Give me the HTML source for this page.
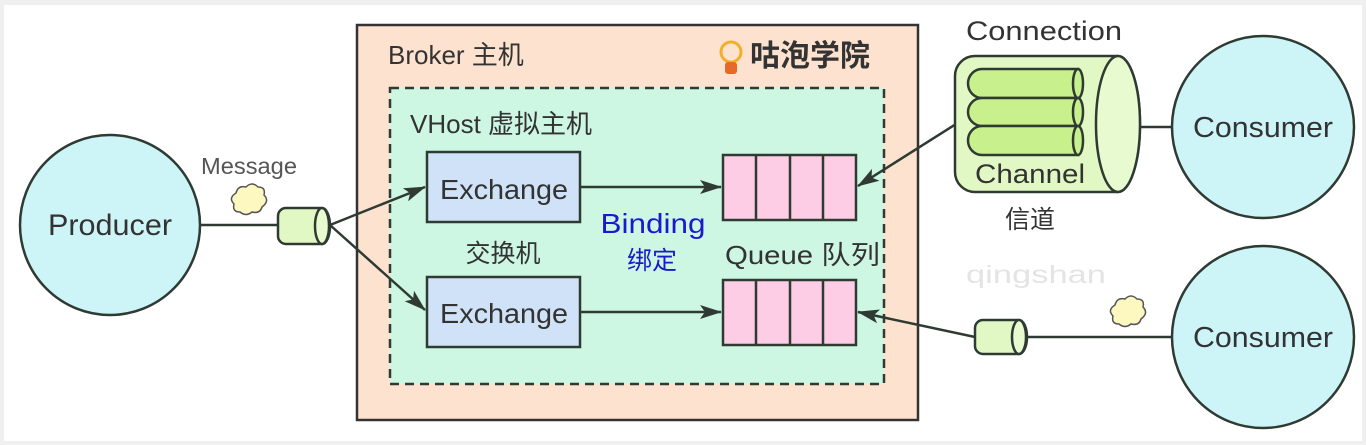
<!DOCTYPE html>
<html><head><meta charset="utf-8"><style>
html,body{margin:0;padding:0;background:#f0f0f0;}
svg{display:block;}
text{font-family:"Liberation Sans","Noto Sans CJK SC",sans-serif;}
</style></head><body>
<svg width="1366" height="445" viewBox="0 0 1366 445" xmlns="http://www.w3.org/2000/svg">
<defs>
<marker id="a" markerWidth="22" markerHeight="14" refX="21" refY="7" orient="auto" markerUnits="userSpaceOnUse">
<path d="M0,0 L22,7 L0,14 L5,7 Z" fill="#2f3a33"/></marker>
</defs>
<rect x="4" y="5" width="1358" height="436" fill="#fff"/>
<!-- Producer -->
<circle cx="110" cy="225" r="90" fill="#cdf5f8" stroke="#2f3a33" stroke-width="2.5"/>
<text x="110" y="235" font-size="30" text-anchor="middle" fill="#333" textLength="124" lengthAdjust="spacingAndGlyphs">Producer</text>
<line x1="200" y1="225" x2="278" y2="225" stroke="#2f3a33" stroke-width="2.5"/>
<text x="249" y="174" font-size="23" text-anchor="middle" fill="#555" textLength="96" lengthAdjust="spacingAndGlyphs">Message</text>
<path d="M236,193 q2,-8 10,-6 q6,-6 12,0 q8,0 6,8 q6,6 -2,12 q-2,7 -10,5 q-6,5 -12,0 q-8,0 -6,-8 q-6,-6 2,-11 Z" fill="#fdf8c0" stroke="#555" stroke-width="1.5"/>
<path d="M286,208 L322,208 A8,18 0 0 1 322,244 L286,244 A8,8 0 0 1 278,236 L278,216 A8,8 0 0 1 286,208 Z" fill="#e2f8c4" stroke="#2f3a33" stroke-width="2.5"/>
<ellipse cx="322" cy="226" rx="7" ry="18" fill="#e8fad0" stroke="#2f3a33" stroke-width="2.5"/>
<!-- Broker -->
<rect x="357" y="25" width="561" height="395" fill="#fde3cf" stroke="#333" stroke-width="2.5"/>
<text x="388" y="64" font-size="26" fill="#333">Broker 主机</text>
<circle cx="731" cy="52" r="10" fill="none" stroke="#f2b02a" stroke-width="3"/>
<rect x="725" y="62" width="12" height="12" rx="3" fill="#e8682a"/>
<text x="750" y="66" font-size="30" font-weight="bold" fill="#333">咕泡学院</text>
<rect x="390" y="88" width="494" height="296" fill="#cdf7e2" stroke="#2f3a33" stroke-width="2.5" stroke-dasharray="9,6"/>
<text x="410" y="133" font-size="26" fill="#333">VHost 虚拟主机</text>
<rect x="427" y="152" width="153" height="70" fill="#cfe2f7" stroke="#2f3a33" stroke-width="2.5"/>
<text x="504" y="199" font-size="28" text-anchor="middle" fill="#333" textLength="128" lengthAdjust="spacingAndGlyphs">Exchange</text>
<rect x="427" y="277" width="153" height="70" fill="#cfe2f7" stroke="#2f3a33" stroke-width="2.5"/>
<text x="504" y="323" font-size="28" text-anchor="middle" fill="#333" textLength="128" lengthAdjust="spacingAndGlyphs">Exchange</text>
<text x="503" y="262" font-size="25" text-anchor="middle" fill="#333">交换机</text>
<text x="653" y="233" font-size="28" text-anchor="middle" fill="#1a1acc" textLength="105" lengthAdjust="spacingAndGlyphs">Binding</text>
<text x="652" y="269" font-size="25" text-anchor="middle" fill="#1a1acc">绑定</text>
<text x="725" y="264" font-size="26" fill="#333" textLength="155" lengthAdjust="spacingAndGlyphs">Queue 队列</text>
<g fill="#fccde5" stroke="#2f3a33" stroke-width="2.5">
<rect x="723" y="155" width="133" height="65"/>
<rect x="723" y="280" width="133" height="65"/>
</g>
<g stroke="#2f3a33" stroke-width="2.5">
<line x1="756" y1="155" x2="756" y2="220"/><line x1="790" y1="155" x2="790" y2="220"/><line x1="823" y1="155" x2="823" y2="220"/>
<line x1="756" y1="280" x2="756" y2="345"/><line x1="790" y1="280" x2="790" y2="345"/><line x1="823" y1="280" x2="823" y2="345"/>
</g>
<g stroke="#2f3a33" stroke-width="2.5" fill="none">
<line x1="330" y1="225" x2="425" y2="187" marker-end="url(#a)"/>
<line x1="330" y1="225" x2="425" y2="310" marker-end="url(#a)"/>
<line x1="580" y1="187" x2="721" y2="187" marker-end="url(#a)"/>
<line x1="580" y1="312" x2="721" y2="312" marker-end="url(#a)"/>
<line x1="975" y1="112" x2="858" y2="186" marker-end="url(#a)"/>
<line x1="975" y1="337" x2="858" y2="312" marker-end="url(#a)"/>
<line x1="1140" y1="127" x2="1172" y2="127"/>
<line x1="1028" y1="337" x2="1172" y2="337"/>
</g>
<!-- Connection -->
<text x="1044" y="40" font-size="27" text-anchor="middle" fill="#333" textLength="156" lengthAdjust="spacingAndGlyphs">Connection</text>
<path d="M975,56 L1118,56 A22,68 0 0 1 1118,192 L975,192 A20,20 0 0 1 955,172 L955,76 A20,20 0 0 1 975,56 Z" fill="#e2f8c4" stroke="#2f3a33" stroke-width="2.5"/>
<ellipse cx="1118" cy="124" rx="22" ry="68" fill="#e8fad0" stroke="#2f3a33" stroke-width="2.5"/>
<g fill="#c8f08c" stroke="#2f3a33" stroke-width="2.5">
<path d="M982,69 L1078,69 L1078,98 L982,98 A14,14.5 0 0 1 982,69 Z"/>
<path d="M982,98 L1078,98 L1078,126 L982,126 A14,14 0 0 1 982,98 Z"/>
<path d="M982,126 L1078,126 L1078,155 L982,155 A14,14.5 0 0 1 982,126 Z"/>
<ellipse cx="1078" cy="83.5" rx="5" ry="14.5"/>
<ellipse cx="1078" cy="112" rx="5" ry="14"/>
<ellipse cx="1078" cy="140.5" rx="5" ry="14.5"/>
</g>
<text x="1030" y="183" font-size="27" text-anchor="middle" fill="#333" textLength="110" lengthAdjust="spacingAndGlyphs">Channel</text>
<text x="1030" y="228" font-size="25" text-anchor="middle" fill="#333">信道</text>
<circle cx="1263" cy="127" r="91" fill="#cdf5f8" stroke="#2f3a33" stroke-width="2.5"/>
<text x="1263" y="137" font-size="29" text-anchor="middle" fill="#333" textLength="140" lengthAdjust="spacingAndGlyphs">Consumer</text>
<circle cx="1263" cy="337" r="91" fill="#cdf5f8" stroke="#2f3a33" stroke-width="2.5"/>
<text x="1263" y="347" font-size="29" text-anchor="middle" fill="#333" textLength="140" lengthAdjust="spacingAndGlyphs">Consumer</text>
<path d="M983,320 L1019,320 A8,17 0 0 1 1019,354 L983,354 A8,8 0 0 1 975,346 L975,328 A8,8 0 0 1 983,320 Z" fill="#e2f8c4" stroke="#2f3a33" stroke-width="2.5"/>
<ellipse cx="1019" cy="337" rx="7" ry="17" fill="#e8fad0" stroke="#2f3a33" stroke-width="2.5"/>
<path d="M1115,305 q2,-8 10,-6 q6,-6 12,0 q8,0 6,8 q6,6 -2,12 q-2,7 -10,5 q-6,5 -12,0 q-8,0 -6,-8 q-6,-6 2,-11 Z" fill="#fdf8c0" stroke="#555" stroke-width="1.5"/>
<text x="966" y="283" font-size="25" fill="#e4e4e4" textLength="140" lengthAdjust="spacingAndGlyphs">qingshan</text>
</svg>
</body></html>
